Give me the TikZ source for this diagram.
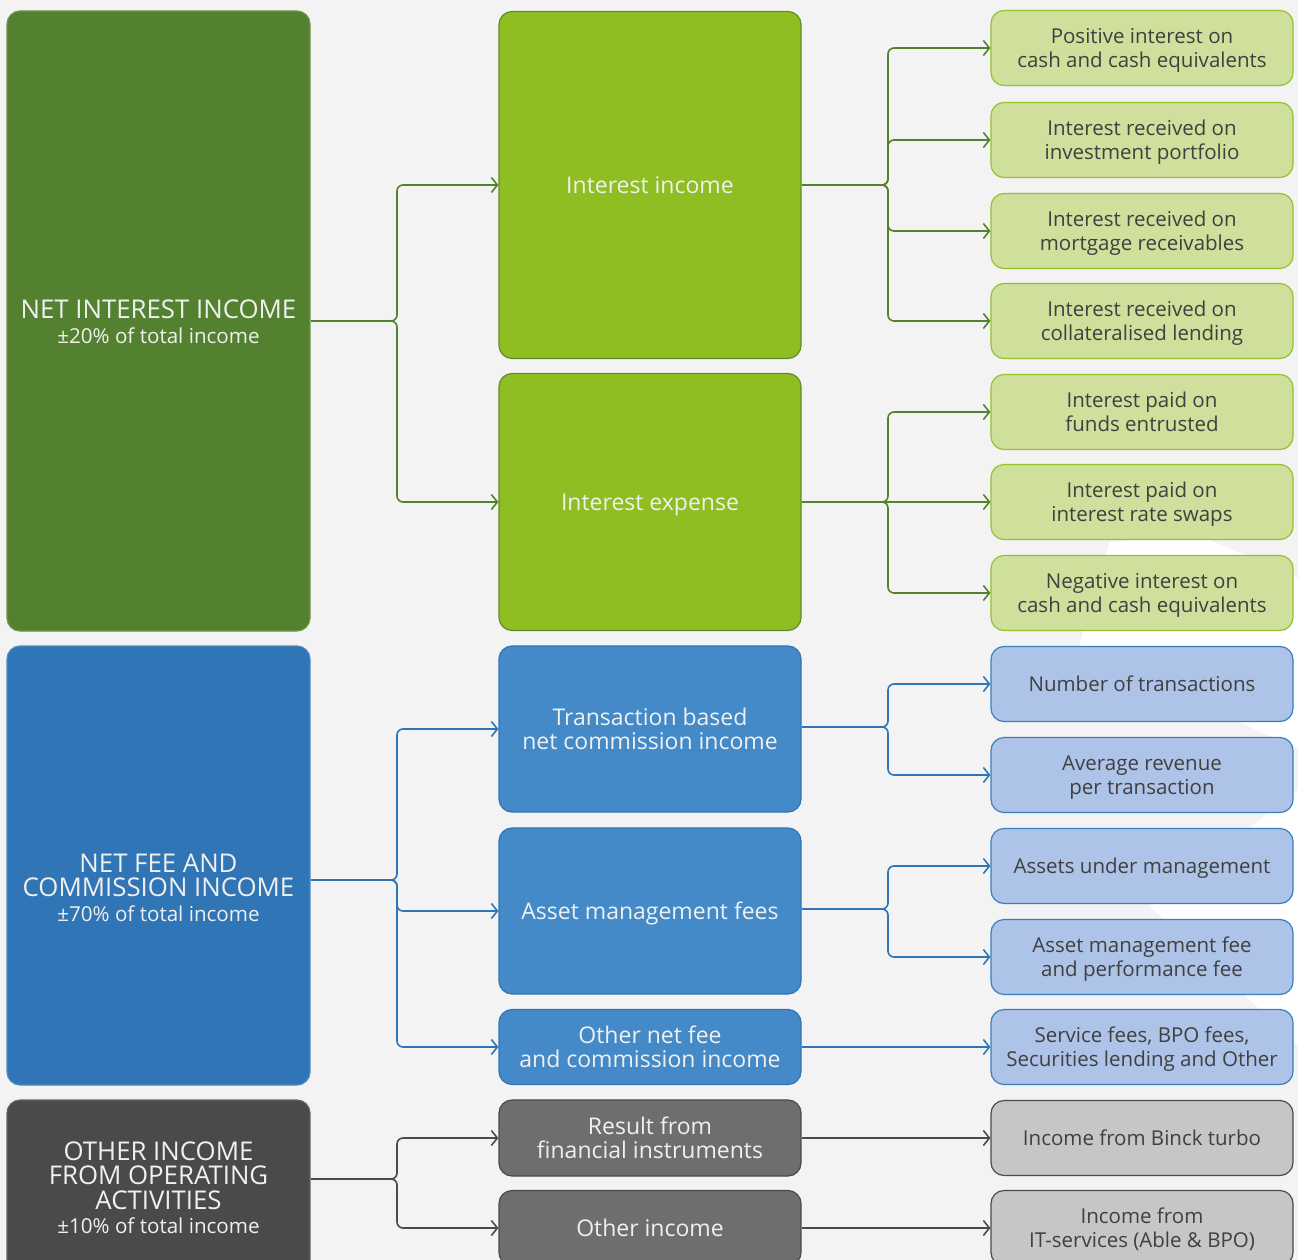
\documentclass[tikz,border=0pt]{standalone}
\usepackage{fontspec}
\setmainfont{Open Sans}
\usetikzlibrary{arrows.meta}
\definecolor{bg}{HTML}{F3F3F3}
\definecolor{gBig}{HTML}{548130}
\definecolor{gMid}{HTML}{8FBE22}
\definecolor{gMidB}{HTML}{5E8E2C}
\definecolor{gLight}{HTML}{CFDF9C}
\definecolor{gLightB}{HTML}{95C12E}
\definecolor{bBig}{HTML}{3075B6}
\definecolor{bMid}{HTML}{448AC9}
\definecolor{bMidB}{HTML}{2F74B5}
\definecolor{bLight}{HTML}{ADC3E8}
\definecolor{bLightB}{HTML}{3A7DC0}
\definecolor{kBig}{HTML}{4A4A48}
\definecolor{kMid}{HTML}{6E6E6E}
\definecolor{kLight}{HTML}{C6C6C6}
\definecolor{kLine}{HTML}{4A4A4A}
\definecolor{darktext}{HTML}{404040}
\definecolor{lighttext}{HTML}{F0F0F0}
\newcommand{\bigf}{\fontsize{25.8}{24.5}\selectfont}
\newcommand{\smallf}{\fontsize{20.6}{26}\selectfont}
\newcommand{\tstr}{\rule{0pt}{1.06em}}
\tikzset{
  box/.style={rounded corners=13pt, line width=1.2pt, inner sep=0pt, align=center,
    execute at end node={\rule[-0.3em]{0pt}{0.3em}}},
  bigbox/.style={box, minimum width=303pt, text=lighttext, font=\bigf},
  midbox/.style={box, minimum width=302pt, text=lighttext, font=\fontsize{23}{24}\selectfont},
  subbox/.style={box, minimum width=302pt, minimum height=75pt, text=darktext, font=\fontsize{20.5}{24}\selectfont},
  bigtxt/.style={text=lighttext, align=center, inner sep=0pt, font=\bigf,
    execute at end node={\rule[-0.3em]{0pt}{0.3em}}},
  conn/.style={line width=1.6pt, -{Straight Barb[length=6pt,width=15pt]}},
  trunk/.style={line width=1.6pt},
  gc/.style={draw=gBig}, bc/.style={draw=bBig}, kc/.style={draw=kLine}
}
\begin{document}
\begin{tikzpicture}[x=1pt,y=-1pt]
\useasboundingbox (0,0) rectangle (1298,1260);
\clip (0,0) rectangle (1298,1260);
\fill[bg] (0,0) rectangle (1298,1260);
% faint white watermark
\fill[white] (1110,542) .. controls (1150,538) and (1180,536) .. (1205,538) -- (1298,578) -- (1298,748) -- (1078,652) .. controls (1088,610) and (1098,575) .. (1110,542) -- cycle;
\fill[white] (1298,790) -- (1150,906) .. controls (1190,945) and (1225,975) .. (1252,1002) -- (1298,1045) -- cycle;

% ---------- big boxes ----------
\node[bigbox, fill=gBig, draw=gBig!85!white, minimum height=620pt] (nii) at (158.5,321)
  {\bigf\tstr NET INTEREST INCOME\\\smallf ±20\% of total income};
\node[bigbox, fill=bBig, draw=bBig!85!white, minimum height=439pt] (nfc) at (158.5,865.5) {};
\node[bigtxt] (nfctxt) at (158.5,887)
  {\bigf\tstr NET FEE AND\\\bigf COMMISSION INCOME\\\smallf ±70\% of total income};
\node[bigbox, fill=kBig, draw=kBig!85!white, minimum height=174pt] (oio) at (158.5,1187)
  {\bigf\tstr OTHER INCOME\\\bigf FROM OPERATING\\\bigf ACTIVITIES\\\smallf ±10\% of total income};

% ---------- middle boxes ----------
\node[midbox, fill=gMid, draw=gMidB, minimum height=347pt] (ii) at (650,185) {\tstr Interest income};
\node[midbox, fill=gMid, draw=gMidB, minimum height=257pt] (ie) at (650,502) {\tstr Interest expense};
\node[midbox, fill=bMid, draw=bMidB, minimum height=166pt] (tb) at (650,729) {\tstr Transaction based\\net commission income};
\node[midbox, fill=bMid, draw=bMidB, minimum height=166pt] (am) at (650,911) {\tstr Asset management fees};
\node[midbox, fill=bMid, draw=bMidB, minimum height=75pt] (on) at (650,1047) {\tstr Other net fee\\and commission income};
\node[midbox, fill=kMid, draw=kLine, minimum height=76pt] (rf) at (650,1138) {\tstr Result from\\financial instruments};
\node[midbox, fill=kMid, draw=kLine, minimum height=75pt] (oi) at (650,1228) {\tstr Other income};

% ---------- right boxes ----------
\node[subbox, fill=gLight, draw=gLightB] (g1) at (1142,48) {\tstr Positive interest on\\cash and cash equivalents};
\node[subbox, fill=gLight, draw=gLightB] (g2) at (1142,140) {\tstr Interest received on\\investment portfolio};
\node[subbox, fill=gLight, draw=gLightB] (g3) at (1142,231) {\tstr Interest received on\\mortgage receivables};
\node[subbox, fill=gLight, draw=gLightB] (g4) at (1142,321) {\tstr Interest received on\\collateralised lending};
\node[subbox, fill=gLight, draw=gLightB] (g5) at (1142,412) {\tstr Interest paid on\\funds entrusted};
\node[subbox, fill=gLight, draw=gLightB] (g6) at (1142,502) {\tstr Interest paid on\\interest rate swaps};
\node[subbox, fill=gLight, draw=gLightB] (g7) at (1142,593) {\tstr Negative interest on\\cash and cash equivalents};
\node[subbox, fill=bLight, draw=bLightB] (b1) at (1142,684) {\tstr Number of transactions};
\node[subbox, fill=bLight, draw=bLightB] (b2) at (1142,775) {\tstr Average revenue\\per transaction};
\node[subbox, fill=bLight, draw=bLightB] (b3) at (1142,866) {\tstr Assets under management};
\node[subbox, fill=bLight, draw=bLightB] (b4) at (1142,957) {\tstr Asset management fee\\and performance fee};
\node[subbox, fill=bLight, draw=bLightB] (b5) at (1142,1047) {\tstr Service fees, BPO fees,\\Securities lending and Other};
\node[subbox, fill=kLight, draw=kLine] (k1) at (1142,1138) {\tstr Income from Binck turbo};
\node[subbox, fill=kLight, draw=kLine] (k2) at (1142,1228) {\tstr Income from\\IT-services (Able \& BPO)};

% ---------- junction points ----------
\coordinate (jA) at (391,321);
\coordinate (jB) at (391,880);
\coordinate (jC) at (391,1179);
\coordinate (jD) at (882,185);
\coordinate (jE) at (882,502);
\coordinate (jF) at (882,727);
\coordinate (jG) at (882,909);

% ---------- connectors: left ----------
\draw[trunk, gc] (nii.east |- jA) -- (jA);
\foreach \t in {ii,ie} \draw[conn, gc, rounded corners=6pt] (jA) -- ++(6,0) |- (\t.west);
\draw[trunk, bc] (nfc.east |- jB) -- (jB);
\foreach \t in {tb,am,on} \draw[conn, bc, rounded corners=6pt] (jB) -- ++(6,0) |- (\t.west);
\draw[trunk, kc] (oio.east |- jC) -- (jC);
\foreach \t in {rf,oi} \draw[conn, kc, rounded corners=6pt] (jC) -- ++(6,0) |- (\t.west);

% ---------- connectors: right ----------
\draw[trunk, gc] (ii.east) -- (jD);
\foreach \t in {g1,g2,g3,g4} \draw[conn, gc, rounded corners=6pt] (jD) -- ++(6,0) |- (\t.west);
\draw[trunk, gc] (ie.east) -- (jE);
\foreach \t in {g5,g7} \draw[conn, gc, rounded corners=6pt] (jE) -- ++(6,0) |- (\t.west);
\draw[conn, gc] (ie.east) -- (g6.west);
\draw[trunk, bc] (tb.east |- jF) -- (jF);
\foreach \t in {b1,b2} \draw[conn, bc, rounded corners=6pt] (jF) -- ++(6,0) |- (\t.west);
\draw[trunk, bc] (am.east |- jG) -- (jG);
\foreach \t in {b3,b4} \draw[conn, bc, rounded corners=6pt] (jG) -- ++(6,0) |- (\t.west);
\draw[conn, bc] (on.east) -- (b5.west);
\draw[conn, kc] (rf.east) -- (k1.west);
\draw[conn, kc] (oi.east) -- (k2.west);
\end{tikzpicture}
\end{document}
